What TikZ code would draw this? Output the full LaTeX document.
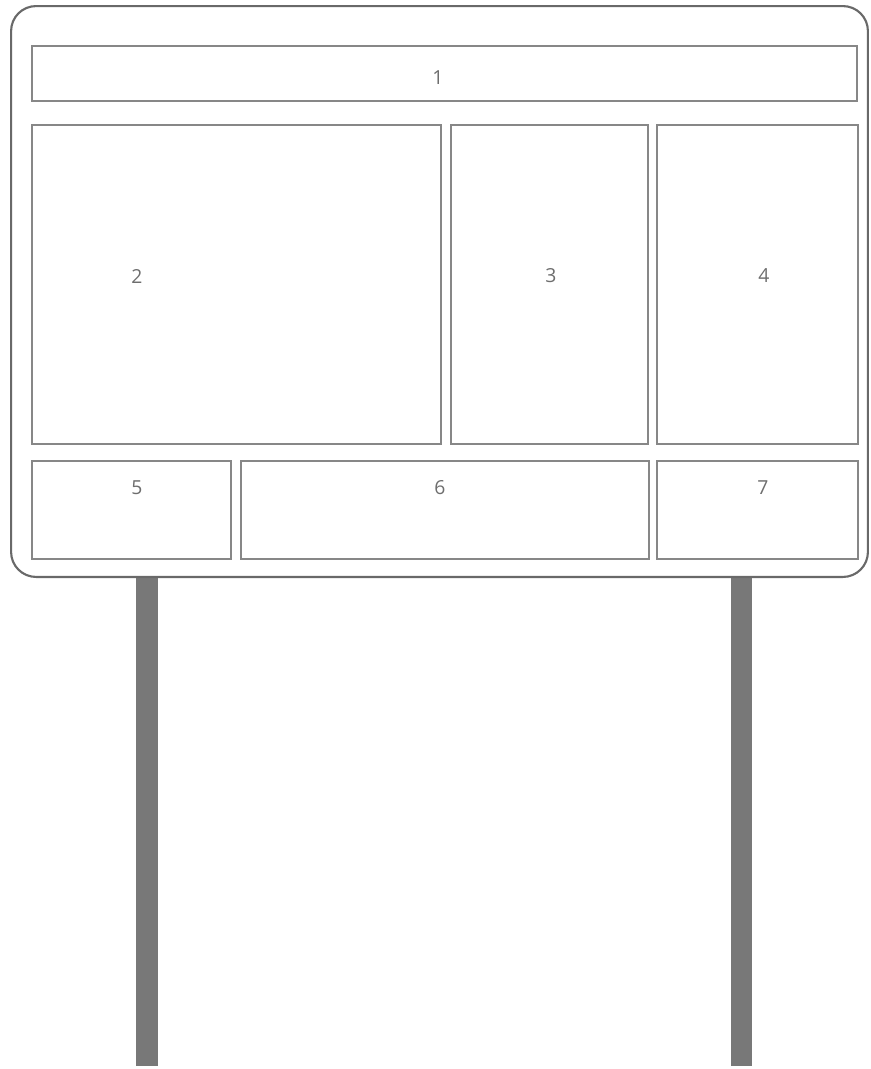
\documentclass[tikz,border=0pt]{standalone}
\usepackage{fontspec}
\setmainfont{Open Sans}
\definecolor{boardgray}{RGB}{105,105,105}
\definecolor{panelgray}{RGB}{135,135,135}
\definecolor{postgray}{RGB}{120,120,120}
\definecolor{numgray}{RGB}{110,110,110}
\usetikzlibrary{positioning}

\begin{document}
\begin{tikzpicture}[x=0.02cm,y=-0.02cm,
  panel/.style={draw=panelgray,line width=1.1pt,inner sep=0pt},
  panelnum/.style={text=numgray,font=\fontsize{11}{13}\selectfont},
  post/.style={fill=postgray,draw=none,inner sep=0pt,minimum width=0.43cm,minimum height=9.76cm}]
  \useasboundingbox (0,0) rectangle (870,1069);
  % posts
  \node[post] (lpost) at (147,822) {};
  \node[post] (rpost) at (741.5,822) {};
  % board
  \node[draw=boardgray,fill=white,line width=1.2pt,rounded corners=0.5cm,inner sep=0pt,minimum width=17.14cm,minimum height=11.42cm] (board) at (439.5,291.5) {};
  % top row
  \node[panel,minimum width=16.5cm,minimum height=1.1cm] (p1) at (444.5,73.5) {};
  \node[panelnum] (n1) at (438,78) {1};
  % middle row
  \node[panel,minimum width=8.18cm,minimum height=6.38cm] (p2) at (236.5,284.5) {};
  \node[panel,minimum width=3.94cm,minimum height=6.38cm] (p3) at (549.5,284.5) {};
  \node[panel,minimum width=4.02cm,minimum height=6.38cm] (p4) at (757.5,284.5) {};
  \node[panelnum] (n2) at (137,276) {2};
  \node[panelnum] (n3) at (551,276) {3};
  \node[panelnum] (n4) at (764,276) {4};
  % bottom row
  \node[panel,minimum width=3.98cm,minimum height=1.96cm] (p5) at (131.5,510) {};
  \node[panel,minimum width=8.16cm,minimum height=1.96cm] (p6) at (445,510) {};
  \node[panel,minimum width=4.02cm,minimum height=1.96cm] (p7) at (757.5,510) {};
  \node[panelnum] (n5) at (137,488) {5};
  \node[panelnum] (n6) at (440,488) {6};
  \node[panelnum] (n7) at (763,488) {7};
\end{tikzpicture}
\end{document}
